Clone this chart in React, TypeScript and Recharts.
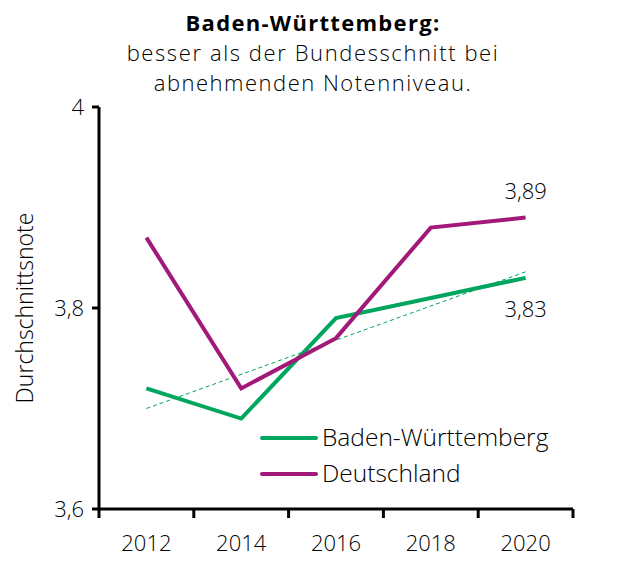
import React from "react";
import { LineChart, Line, XAxis, YAxis, LabelList } from "recharts";

const years = [2012, 2014, 2016, 2018, 2020];
const bwValues = [3.72, 3.69, 3.79, 3.81, 3.83];
const deValues = [3.87, 3.72, 3.77, 3.88, 3.89];
const trendValues = [3.70, null, null, null, 3.836];
const yTicks = [3.6, 3.8, 4];
const xTicks = [2011, 2012, 2013, 2014, 2015, 2016, 2017, 2018, 2019, 2020, 2021];
const titleLines = ["Baden-Württemberg:", "besser als der Bundesschnitt bei", "abnehmenden Notenniveau."];
const seriesNames = ["Baden-Württemberg", "Deutschland"];

const GREEN = "#00A65D";
const MAGENTA = "#A2197A";
const FONT = "'Open Sans', sans-serif";
const TW = 300;
const INK = "#000";

const data = years.map((y, i) => ({
  year: y,
  bw: bwValues[i],
  de: deValues[i],
  trend: trendValues[i],
}));

const fmt = (v: number) => String(v).replace(".", ",");

const XTick = (props: any) => {
  const { x, y, payload } = props;
  const v = payload.value;
  if (v % 2 === 1) {
    return <line x1={x} x2={x} y1={y - 10} y2={y - 1} stroke="#000" strokeWidth={3} />;
  }
  return (
    <text x={x} y={y + 32} textAnchor="middle" fontSize={22} fontWeight={TW} fontFamily={FONT} fill={INK}>
      {v}
    </text>
  );
};

const lastLabel = (dy: number) => (props: any) => {
  const { x, y, index, value } = props;
  if (index !== years.length - 1) return null;
  return (
    <text x={x} y={y + dy} textAnchor="middle" fontSize={22} fontWeight={TW} fontFamily={FONT} fill={INK}>
      {fmt(value)}
    </text>
  );
};

const YLabel = (props: any) => {
  const { viewBox } = props;
  const cy = viewBox.y + viewBox.height / 2;
  return (
    <text
      x={33}
      y={cy}
      transform={`rotate(-90 33 ${cy})`}
      textAnchor="middle"
      fontSize={23}
      fontWeight={TW}
      fontFamily={FONT}
      fill={INK}
    >
      Durchschnittsnote
    </text>
  );
};

export default function App() {
  return (
    <div style={{ position: "absolute", left: 0, top: 0, width: 642, height: 561, background: "#fff", fontFamily: FONT }}>
      <div style={{ position: "absolute", top: 7, left: 0, width: 626, textAlign: "center", color: INK, lineHeight: "30px" }}>
        <div style={{ fontWeight: 700, fontSize: 22, letterSpacing: 1.3 }}>{titleLines[0]}</div>
        <div style={{ fontSize: 22, fontWeight: TW, letterSpacing: 1.6 }}>{titleLines[1]}</div>
        <div style={{ fontSize: 22, fontWeight: TW, letterSpacing: 1.5 }}>{titleLines[2]}</div>
      </div>
      <div style={{ position: "absolute", left: 0, top: 0 }}>
        <LineChart width={642} height={561} data={data} margin={{ top: 107, right: 69, bottom: 12, left: 0 }}>
          <XAxis
            dataKey="year"
            type="number"
            domain={[2011, 2021]}
            ticks={xTicks}
            interval={0}
            tickLine={false}
            tickSize={0}
            tickMargin={10}
            axisLine={{ stroke: "#000", strokeWidth: 3 }}
            tick={<XTick />}
            height={40}
          />
          <YAxis
            type="number"
            domain={[3.6, 4]}
            ticks={yTicks}
            tickFormatter={fmt}
            width={99}
            tickSize={7}
            tickMargin={8}
            axisLine={{ stroke: "#000", strokeWidth: 3 }}
            tickLine={{ stroke: "#000", strokeWidth: 3 }}
            tick={{ fontSize: 22, fontWeight: TW, fontFamily: FONT, fill: INK }}
            label={<YLabel />}
          />
          <Line
            dataKey="trend"
            stroke={GREEN}
            strokeWidth={1}
            strokeDasharray="4 3"
            dot={false}
            connectNulls
            isAnimationActive={false}
          />
          <Line dataKey="bw" name={seriesNames[0]} stroke={GREEN} strokeWidth={4} dot={false} isAnimationActive={false}>
            <LabelList dataKey="bw" content={lastLabel(39)} />
          </Line>
          <Line dataKey="de" name={seriesNames[1]} stroke={MAGENTA} strokeWidth={4} dot={false} isAnimationActive={false}>
            <LabelList dataKey="de" content={lastLabel(-19)} />
          </Line>
        </LineChart>
      </div>
      <svg style={{ position: "absolute", left: 0, top: 0 }} width={642} height={561} pointerEvents="none">
        {seriesNames.map((n, i) => (
          <g key={n}>
            <line x1={262} x2={316} y1={438 + i * 36} y2={438 + i * 36} stroke={i === 0 ? GREEN : MAGENTA} strokeWidth={4} strokeLinecap="round" />
            <text x={322} y={446 + i * 36} fontSize={24.5} fontWeight={TW} fontFamily={FONT} fill={INK}>
              {n}
            </text>
          </g>
        ))}
      </svg>
    </div>
  );
}
